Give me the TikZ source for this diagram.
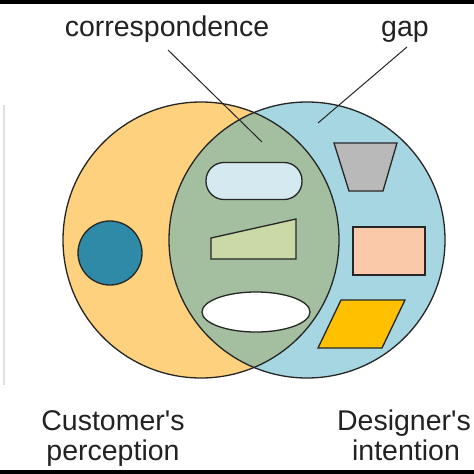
\documentclass[tikz,border=0pt]{standalone}
\usepackage{fontspec}
\usetikzlibrary{shapes.geometric}
\setmainfont{Liberation Sans}
\definecolor{custc}{HTML}{FDD17E}
\definecolor{desc}{HTML}{A6D6E2}
\definecolor{lensc}{HTML}{A3BF9F}
\definecolor{tealc}{HTML}{2E8AA6}
\definecolor{pillc}{HTML}{D4E9F0}
\definecolor{wedgec}{HTML}{CBD9A6}
\definecolor{greyc}{HTML}{B9B9B9}
\definecolor{peachc}{HTML}{F9C9A9}
\definecolor{goldc}{HTML}{FFC000}
\definecolor{textc}{HTML}{222222}
\begin{document}
\begin{tikzpicture}[x=1pt,y=-1pt,
  outl/.style={draw=black!85, line width=1.3pt},
  lbl/.style={font=\fontsize{28.5}{30}\selectfont, text=textc, inner sep=0pt},
  leader/.style={draw=black!85, line width=1pt}]
\useasboundingbox (0,0) rectangle (474,474);
\fill[white] (0,0) rectangle (474,474);
\fill[black] (0,0) rectangle (474,4);
\fill[black] (0,470) rectangle (474,474);
\draw[black!12, line width=1.5pt] (4,105) -- (4,385);
% circles
\fill[custc] (201,240) circle (138);
\fill[desc] (307,240) circle (138);
\begin{scope}
  \clip (201,240) circle (138);
  \fill[lensc] (307,240) circle (138);
\end{scope}
\draw[outl] (201,240) circle (138);
\draw[outl] (307,240) circle (138);
% shapes
\node[outl, fill=tealc, circle, minimum size=64pt, inner sep=0pt] (dot) at (110,253) {};
\node[outl, fill=pillc, rounded corners=18pt, minimum width=96pt, minimum height=37pt, inner sep=0pt] (pill) at (254,181) {};
\draw[outl, fill=wedgec] (211,238) -- (296,219) -- (296,259) -- (211,259) -- cycle;
\node[outl, fill=white, ellipse, minimum width=108pt, minimum height=40pt, inner sep=0pt] (oval) at (256,312) {};
\draw[outl, fill=greyc] (334,143) -- (397,143) -- (383,191) -- (349,191) -- cycle;
\node[outl, fill=peachc, minimum width=72pt, minimum height=48pt, inner sep=0pt] (rect) at (389,251) {};
\draw[outl, fill=goldc] (341,300) -- (405,300) -- (382,348) -- (318,348) -- cycle;
% labels
\node[lbl, anchor=base] (corr) at (167,36) {correspondence};
\node[lbl, anchor=base] (gap) at (405,36) {gap};
\node[lbl, anchor=base] (cust) at (113,430) {Customer\textquotesingle s};
\node[lbl, anchor=base] (cust2) at (113,460) {perception};
\node[lbl, anchor=base] (des) at (404,430) {Designer\textquotesingle s};
\node[lbl, anchor=base] (des2) at (406,460) {intention};
% leaders
\coordinate (c1) at (168,50);
\coordinate (c2) at (262,142);
\coordinate (g1) at (407,47);
\coordinate (g2) at (318,123);
\draw[leader] (c1) -- (c2);
\draw[leader] (g1) -- (g2);
\end{tikzpicture}
\end{document}
